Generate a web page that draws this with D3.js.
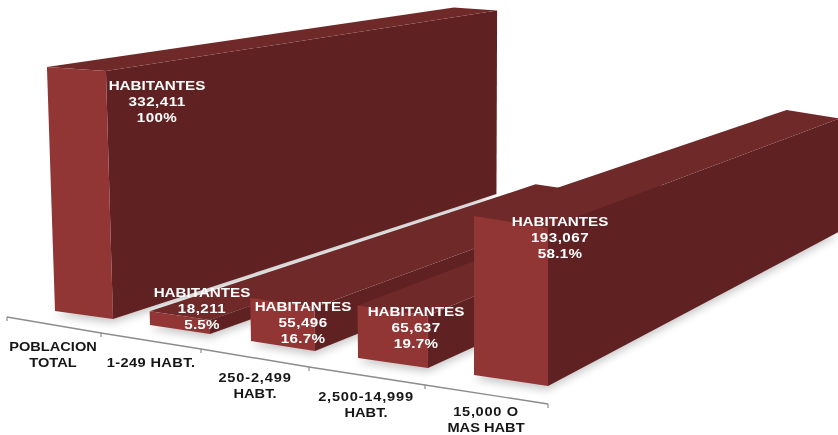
<!DOCTYPE html>
<html><head><meta charset="utf-8">
<script src="https://cdn.jsdelivr.net/npm/d3@7/dist/d3.min.js"></script>
<style>html,body{margin:0;padding:0;background:#fff;overflow:hidden}svg{display:block}
text{font-family:"Liberation Sans",Arial,sans-serif;font-weight:700;text-anchor:middle;dominant-baseline:central}</style>
</head><body><svg width="838" height="435"></svg>
<script>
const categories=[["POBLACION","TOTAL"],["1-249 HABT."],["250-2,499","HABT."],["2,500-14,999","HABT."],["15,000 O","MAS HABT"]];
const values=[332411,18211,55496,65637,193067];
const percents=["100%","5.5%","16.7%","19.7%","58.1%"];
const seriesName="HABITANTES";
const idx=d3.range(categories.length);
const svg=d3.select("svg");
// projected positions of the floor plane, by category index
const cat=d3.scaleLinear().domain(idx);
const leftX=cat.copy().range([55,150,251,358,474]);
const rightX=cat.copy().range([113,210,315,428,548]);
const leftBase=cat.copy().range([311,325,341,358,375]);
const rightBase=cat.copy().range([319,334,351,368,386]);
const height=d3.scaleLinear().domain([0,332411]).range([0,244]);
const persp=d3.scaleLinear().domain([0,4]).range([1,1.122]);
const rightF=d3.scaleLinear().domain([0,4]).range([1.016,0.995]);
const tilt=d3.scaleLinear().domain([55,474]).range([0.033,0]).clamp(true);
const depthTop=d3.scaleLinear().domain([0,4]).range([0.267,0.285]);
const depthBase=d3.scaleLinear().domain([0,4]).range([0.263,0.285]);
const VP=[1571,-156];
const toVP=(p,t)=>[p[0]+t*(VP[0]-p[0]),p[1]+t*(VP[1]-p[1])];
function geom(i){
  const v=values[i],h=height(v)*persp(i),hr=h*rightF(i);
  const xl=leftX(i),xr=rightX(i);
  const bl=[xl,leftBase(i)],br=[xr,rightBase(i)];
  const tl=[xl-h*tilt(xl),bl[1]-h],tr=[xr-hr*tilt(xr),br[1]-hr];
  const T=depthTop(i),B=depthBase(i);
  return {bl,br,tl,tr,tlb:toVP(tl,T),trb:toVP(tr,T),brb:toVP(br,B),blb:toVP(bl,B)};
}
const defs=svg.append("defs");
defs.append("filter").attr("id","sh").attr("x","-20%").attr("y","-20%").attr("width","140%").attr("height","140%")
  .append("feGaussianBlur").attr("stdDeviation",4);
defs.append("filter").attr("id","soft").attr("x","-5%").attr("y","-20%").attr("width","110%").attr("height","140%")
  .append("feGaussianBlur").attr("stdDeviation",0.35);
const pts=a=>a.map(p=>p.join(",")).join(" ");
const bars=svg.append("g").selectAll("g").data(idx).join("g").datum(geom);
bars.append("polygon").attr("points",g=>pts([g.bl,g.br,g.brb,g.blb].map(p=>[p[0]-1,p[1]+4])))
  .attr("fill","#000").attr("opacity",.22).attr("filter","url(#sh)");
bars.append("polygon").attr("points",g=>pts([g.tr,g.trb,g.brb,g.br])).attr("fill","#602122");
bars.append("polygon").attr("points",g=>pts([g.tl,g.tlb,g.trb,g.tr])).attr("fill","#6f2929");
bars.append("polygon").attr("points",g=>pts([g.tl,g.tr,g.br,g.bl])).attr("fill","#913535");
// category axis
const tickPos=d3.range(categories.length+1);
const axisX=d3.scaleLinear().domain(tickPos).range([7,101,201,309,425,548]);
const axisY=d3.scaleLinear().domain(tickPos).range([317,333,349,367,385,404]);
const axis=svg.append("g").attr("stroke","#8c8c8c").attr("fill","none");
axis.append("path").attr("stroke-width",1.4).attr("d",d3.line().x(axisX).y(axisY)(tickPos));
axis.selectAll("line").data(tickPos).join("line").attr("stroke-width",1.2)
  .attr("x1",axisX).attr("x2",axisX).attr("y1",axisY).attr("y2",d=>axisY(d)+4);
// text: wide face, digits set a little looser
const stretch=1.17;
const digitShare=s=>(s.match(/[0-9]/g)||[]).length/s.length;
function wide(sel,size,fill,lines,cx,cy,spread){
  lines.forEach((s,k)=>{
    sel.append("text").attr("transform",`translate(${cx},${cy+k*16}) scale(${stretch},1)`)
      .attr("font-size",size).attr("fill",fill)
      .attr("letter-spacing",(digitShare(s)*spread).toFixed(2)).text(s);
  });
}
const catX=cat.copy().range([53,151,255,366,486]);
const catY=cat.copy().range([347,363,378,397,411.5]);
const catG=svg.append("g").attr("filter","url(#soft)");
idx.forEach(i=>wide(catG,12.5,"#161616",categories[i],catX(i),catY(i),0.9));
const lblX=cat.copy().range([157,202,303,416,560]);
const lblY=cat.copy().range([85.5,292.5,306.5,311.5,221.5]);
const lblG=svg.append("g").attr("filter","url(#soft)");
idx.forEach(i=>wide(lblG,13,"#ffffff",[seriesName,d3.format(",")(values[i]),percents[i]],lblX(i),lblY(i),0.45));
</script></body></html>
